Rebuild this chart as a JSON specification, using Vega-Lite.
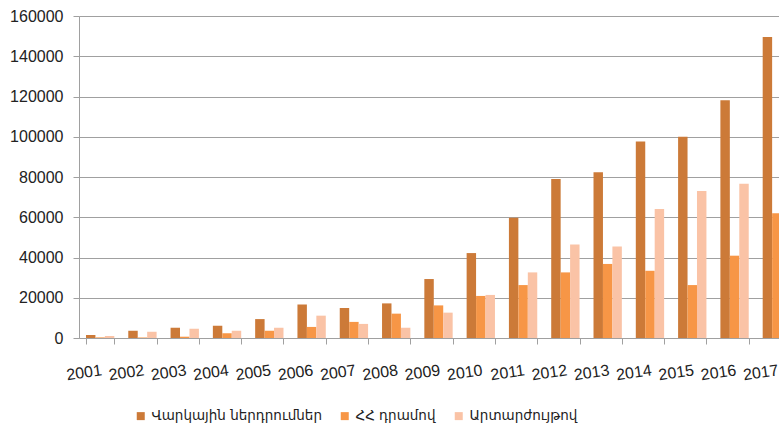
{
  "$schema": "https://vega.github.io/schema/vega-lite/v6.json",
  "width": 700,
  "height": 322,
  "autosize": {"type": "none"},
  "padding": {"left": 79, "top": 16, "right": 0, "bottom": 92},
  "background": "white",
  "config": {"view": {"stroke": null}},
  "data": {
    "values": [
      {"year": "2001", "series": "Վարկային ներդրումներ", "value": 1500},
      {"year": "2001", "series": "ՀՀ դրամով", "value": 300},
      {"year": "2001", "series": "Արտարժույթով", "value": 1000},
      {"year": "2002", "series": "Վարկային ներդրումներ", "value": 3600},
      {"year": "2002", "series": "ՀՀ դրամով", "value": 300},
      {"year": "2002", "series": "Արտարժույթով", "value": 3100},
      {"year": "2003", "series": "Վարկային ներդրումներ", "value": 5100},
      {"year": "2003", "series": "ՀՀ դրամով", "value": 650},
      {"year": "2003", "series": "Արտարժույթով", "value": 4600},
      {"year": "2004", "series": "Վարկային ներդրումներ", "value": 6100},
      {"year": "2004", "series": "ՀՀ դրամով", "value": 2300},
      {"year": "2004", "series": "Արտարժույթով", "value": 3600},
      {"year": "2005", "series": "Վարկային ներդրումներ", "value": 9400},
      {"year": "2005", "series": "ՀՀ դրամով", "value": 3600},
      {"year": "2005", "series": "Արտարժույթով", "value": 5100},
      {"year": "2006", "series": "Վարկային ներդրումներ", "value": 16700},
      {"year": "2006", "series": "ՀՀ դրամով", "value": 5500},
      {"year": "2006", "series": "Արտարժույթով", "value": 11100},
      {"year": "2007", "series": "Վարկային ներդրումներ", "value": 14900},
      {"year": "2007", "series": "ՀՀ դրամով", "value": 8000},
      {"year": "2007", "series": "Արտարժույթով", "value": 7000},
      {"year": "2008", "series": "Վարկային ներդրումներ", "value": 17200},
      {"year": "2008", "series": "ՀՀ դրամով", "value": 12100},
      {"year": "2008", "series": "Արտարժույթով", "value": 5100},
      {"year": "2009", "series": "Վարկային ներդրումներ", "value": 29300},
      {"year": "2009", "series": "ՀՀ դրամով", "value": 16200},
      {"year": "2009", "series": "Արտարժույթով", "value": 12600},
      {"year": "2010", "series": "Վարկային ներդրումներ", "value": 42200},
      {"year": "2010", "series": "ՀՀ դրամով", "value": 20900},
      {"year": "2010", "series": "Արտարժույթով", "value": 21400},
      {"year": "2011", "series": "Վարկային ներդրումներ", "value": 59700},
      {"year": "2011", "series": "ՀՀ դրամով", "value": 26300},
      {"year": "2011", "series": "Արտարժույթով", "value": 32600},
      {"year": "2012", "series": "Վարկային ներդրումներ", "value": 79000},
      {"year": "2012", "series": "ՀՀ դրամով", "value": 32600},
      {"year": "2012", "series": "Արտարժույթով", "value": 46500},
      {"year": "2013", "series": "Վարկային ներդրումներ", "value": 82300},
      {"year": "2013", "series": "ՀՀ դրամով", "value": 36800},
      {"year": "2013", "series": "Արտարժույթով", "value": 45500},
      {"year": "2014", "series": "Վարկային ներդրումներ", "value": 97700},
      {"year": "2014", "series": "ՀՀ դրամով", "value": 33400},
      {"year": "2014", "series": "Արտարժույթով", "value": 64100},
      {"year": "2015", "series": "Վարկային ներդրումներ", "value": 100000},
      {"year": "2015", "series": "ՀՀ դրամով", "value": 26300},
      {"year": "2015", "series": "Արտարժույթով", "value": 73000},
      {"year": "2016", "series": "Վարկային ներդրումներ", "value": 118100},
      {"year": "2016", "series": "ՀՀ դրամով", "value": 40900},
      {"year": "2016", "series": "Արտարժույթով", "value": 76700},
      {"year": "2017", "series": "Վարկային ներդրումներ", "value": 149600},
      {"year": "2017", "series": "ՀՀ դրամով", "value": 62000},
      {"year": "2017", "series": "Արտարժույթով", "value": 87600}
    ]
  },
  "mark": {"type": "bar", "clip": true},
  "encoding": {
    "x": {
      "field": "year",
      "type": "nominal",
      "title": null,
      "scale": {"range": [0, 719], "paddingInner": 0.33, "paddingOuter": 0.165},
      "axis": {
        "domainColor": "#a0a0a0",
        "tickColor": "#a0a0a0",
        "tickSize": 6,
        "tickBand": "extent",
        "labelAngle": -8,
        "labelAlign": "right",
        "labelBaseline": "top",
        "labelPadding": 18,
        "labelFont": "Liberation Sans",
        "labelFontSize": 16,
        "labelColor": "#222",
        "grid": false
      }
    },
    "xOffset": {
      "field": "series",
      "type": "nominal",
      "sort": ["Վարկային ներդրումներ", "ՀՀ դրամով", "Արտարժույթով"],
      "scale": {"paddingInner": 0, "paddingOuter": 0}
    },
    "y": {
      "field": "value",
      "type": "quantitative",
      "title": null,
      "scale": {"domain": [0, 160000], "nice": false},
      "axis": {
        "values": [0, 20000, 40000, 60000, 80000, 100000, 120000, 140000, 160000],
        "format": "d",
        "domainColor": "#a0a0a0",
        "tickColor": "#a0a0a0",
        "tickSize": 6,
        "gridColor": "#a0a0a0",
        "gridWidth": 1,
        "labelPadding": 10,
        "labelFont": "Liberation Sans",
        "labelFontSize": 16,
        "labelColor": "#222"
      }
    },
    "color": {
      "field": "series",
      "type": "nominal",
      "title": null,
      "sort": ["Վարկային ներդրումներ", "ՀՀ դրամով", "Արտարժույթով"],
      "scale": {
        "domain": ["Վարկային ներդրումներ", "ՀՀ դրամով", "Արտարժույթով"],
        "range": ["#CC7A38", "#F79646", "#FAC3A6"]
      },
      "legend": {
        "orient": "none",
        "direction": "horizontal",
        "legendX": 55,
        "legendY": 393,
        "symbolType": "square",
        "symbolSize": 64,
        "symbolStrokeWidth": 0,
        "labelFont": "DejaVu Sans",
        "labelFontSize": 13.5,
        "labelColor": "#222",
        "columnPadding": 16,
        "labelLimit": 300
      }
    }
  }
}
